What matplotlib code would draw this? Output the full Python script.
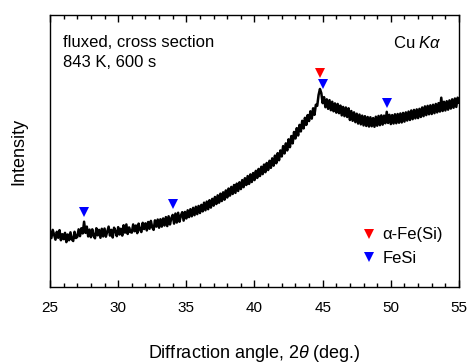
import numpy as np
import matplotlib
matplotlib.use("Agg")
import matplotlib.pyplot as plt

plt.rcParams['font.family'] = ['Liberation Sans', 'DejaVu Sans']
plt.rcParams['mathtext.fontset'] = 'custom'
plt.rcParams['mathtext.it'] = 'Liberation Sans:italic'
plt.rcParams['mathtext.rm'] = 'Liberation Sans'

# 2theta range (deg.) and measured intensity (arb. units), 0.1 deg step
angle_start = 25.0
angle_end = 55.0
intensity = [
    20.5, 18.0, 21.0, 19.2, 17.4, 20.3, 18.1, 20.9, 17.2, 19.4,
    17.6, 19.9, 16.5, 19.3, 17.2, 20.1, 17.5, 16.9, 20.3, 18.0,
    18.4, 21.2, 18.7, 21.6, 19.7, 24.0, 19.9, 22.2, 18.6, 21.1,
    18.3, 21.2, 18.8, 17.9, 21.6, 19.0, 21.0, 18.1, 21.4, 18.6,
    21.5, 18.5, 20.4, 22.2, 18.9, 21.0, 18.2, 21.8, 20.6, 18.7,
    22.0, 19.3, 21.4, 18.9, 22.7, 20.0, 23.0, 19.5, 21.9, 20.2,
    20.0, 23.0, 20.5, 22.6, 19.8, 23.3, 21.1, 20.2, 23.6, 21.3,
    23.4, 20.8, 23.9, 21.4, 24.3, 21.9, 21.0, 24.5, 22.2, 24.8,
    21.8, 24.9, 22.2, 25.2, 22.6, 25.7, 22.4, 26.0, 23.0, 25.3,
    26.5, 23.3, 27.0, 23.7, 27.3, 24.0, 26.3, 27.5, 24.4, 27.6,
    25.2, 28.2, 25.7, 28.6, 26.0, 29.1, 26.4, 29.5, 26.8, 29.8,
    27.2, 30.2, 27.8, 31.0, 28.2, 31.4, 28.6, 31.9, 29.2, 32.4,
    29.9, 33.1, 30.5, 33.7, 31.0, 34.3, 31.6, 34.8, 32.1, 35.5,
    32.9, 36.2, 33.6, 36.8, 34.2, 37.5, 34.6, 38.0, 35.3, 38.5,
    36.0, 39.3, 36.7, 40.0, 37.5, 40.8, 37.9, 41.4, 38.6, 41.9,
    39.3, 42.7, 40.1, 43.4, 40.8, 44.2, 41.5, 45.0, 42.2, 45.6,
    43.0, 46.4, 43.8, 47.3, 44.6, 48.3, 45.5, 49.2, 46.6, 50.2,
    48.0, 51.8, 49.1, 52.8, 50.2, 54.3, 51.4, 55.5, 52.8, 57.0,
    54.6, 58.4, 55.7, 59.6, 57.2, 61.1, 58.3, 62.2, 59.6, 63.2,
    61.0, 64.6, 61.9, 65.7, 63.3, 67.0, 66.6, 70.6, 72.8, 71.3,
    67.6, 69.8, 66.1, 69.0, 65.5, 68.7, 65.0, 68.1, 64.6, 67.5,
    64.1, 67.3, 63.9, 66.7, 63.1, 66.2, 62.8, 66.0, 62.5, 65.7,
    61.4, 64.7, 61.1, 64.2, 60.6, 63.7, 60.1, 63.4, 59.8, 63.0,
    59.4, 62.8, 59.2, 62.5, 59.0, 62.4, 59.1, 62.1, 58.9, 62.6,
    59.3, 62.9, 59.5, 63.1, 59.7, 63.0, 60.2, 64.4, 60.3, 63.3,
    59.9, 63.2, 60.1, 63.5, 60.2, 63.6, 60.4, 63.8, 60.5, 64.0,
    60.8, 64.2, 61.2, 64.5, 61.4, 64.9, 61.7, 65.1, 62.0, 65.3,
    62.1, 65.5, 62.5, 66.0, 62.8, 66.4, 63.2, 66.6, 63.5, 66.8,
    63.6, 67.0, 63.9, 67.3, 64.2, 67.6, 64.5, 69.6, 64.7, 68.1,
    64.9, 68.3, 65.2, 68.6, 65.6, 69.0, 65.9, 69.3, 66.2, 69.6,
    67.8,
]

# Peak markers
fe_angles = [44.8]
fe_heights = [78.8]
fesi_angles = [27.5, 34.05, 45.05, 49.7]
fesi_heights = [27.7, 30.5, 74.6, 67.5]

x_ticks = [25, 30, 35, 40, 45, 50, 55]

angle = np.linspace(angle_start, angle_end, len(intensity))

fig = plt.figure(figsize=(4.70, 3.63), dpi=100)
ax = fig.add_axes([50/470, 1-287/363, 409/470, 272/363])

ax.plot(angle, intensity, color='black', lw=1.8, solid_joinstyle='round')
ax.plot(fe_angles, fe_heights, 'v', color='#ff0000', ms=7, mew=0,
        label='\u03b1-Fe(Si)')
ax.plot(fesi_angles, fesi_heights, 'v', color='#0000ff', ms=7, mew=0,
        label='FeSi')

ax.set_xlim(angle_start, angle_end)
ax.set_ylim(0, 100)
ax.set_xticks(x_ticks)
ax.set_xticklabels([str(t) for t in x_ticks])
ax.set_xticks(np.arange(25, 56, 1), minor=True)
ax.set_yticks([])
ax.tick_params(axis='x', which='both', direction='in', top=True, bottom=True,
               labelsize=11, pad=10, width=1.0)
ax.tick_params(axis='x', which='major', length=5)
ax.tick_params(axis='x', which='minor', length=3.2)
for sp in ax.spines.values():
    sp.set_linewidth(1.0)

ax.set_xlabel('Diffraction angle, 2$\\it{\\theta}$ (deg.)', fontsize=13, labelpad=20)
ax.set_ylabel('Intensity', fontsize=13, labelpad=16)

ax.text(0.032, 0.925, 'fluxed, cross section\n843 K, 600 s', transform=ax.transAxes,
        fontsize=12, va='top', ha='left', linespacing=1.35)
ax.text(0.958, 0.925, 'Cu $K\\alpha$', transform=ax.transAxes,
        fontsize=12, va='top', ha='right')

ax.legend(loc='lower right', bbox_to_anchor=(0.99, 0.035), frameon=False,
          fontsize=12, handlelength=0.6, handletextpad=0.5, labelspacing=0.5,
          borderaxespad=0.3)

fig.savefig('out.png', dpi=100)
